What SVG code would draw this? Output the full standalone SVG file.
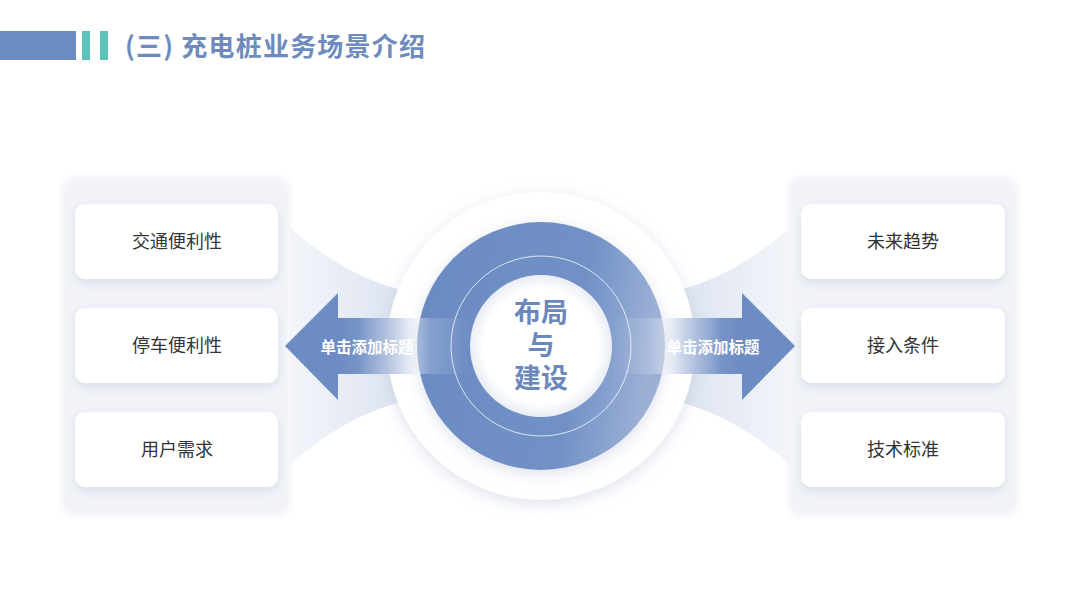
<svg xmlns="http://www.w3.org/2000/svg" width="1080" height="608" viewBox="0 0 1080 608">
<defs>
<style>
.card-t{font-family:"Noto Sans CJK SC","Noto Sans",sans-serif;font-size:18px;fill:#333;text-anchor:middle;dominant-baseline:central}
.lbl{font-family:"Noto Sans CJK SC","Noto Sans",sans-serif;font-size:15.5px;font-weight:bold;fill:#fff;text-anchor:middle;dominant-baseline:central}
.ctr{font-family:"Liberation Sans","Noto Sans CJK SC",sans-serif;font-size:27px;font-weight:bold;fill:#6b88bd;text-anchor:middle}
.panel{fill:#f1f3f8}
.card{fill:#fff;filter:url(#cardShadow)}
</style>
<filter id="cardShadow" x="-20%" y="-30%" width="140%" height="170%">
<feDropShadow dx="0" dy="4" stdDeviation="5" flood-color="#b9c4da" flood-opacity="0.45"/>
</filter>
<filter id="panelShadow" x="-10%" y="-10%" width="120%" height="120%">
<feGaussianBlur stdDeviation="3"/>
</filter>
<filter id="circShadow" x="-20%" y="-20%" width="140%" height="140%">
<feDropShadow dx="0" dy="4" stdDeviation="8" flood-color="#b5c0d6" flood-opacity="0.45"/>
</filter>
<linearGradient id="beamL" x1="290" y1="0" x2="420" y2="0" gradientUnits="userSpaceOnUse">
<stop offset="0" stop-color="#f3f5fa"/>
<stop offset="1" stop-color="#d8e0ee"/>
</linearGradient>
<linearGradient id="beamR" x1="790" y1="0" x2="660" y2="0" gradientUnits="userSpaceOnUse">
<stop offset="0" stop-color="#f3f5fa"/>
<stop offset="1" stop-color="#d8e0ee"/>
</linearGradient>
<linearGradient id="shaftL" x1="338" y1="0" x2="470" y2="0" gradientUnits="userSpaceOnUse">
<stop offset="0" stop-color="#6d8cc3"/>
<stop offset="0.15" stop-color="#7693c7"/>
<stop offset="0.45" stop-color="#c3cfe6" stop-opacity="0.9"/>
<stop offset="0.7" stop-color="#ffffff" stop-opacity="0.18"/>
<stop offset="1" stop-color="#ffffff" stop-opacity="0"/>
</linearGradient>
<linearGradient id="shaftR" x1="742" y1="0" x2="612" y2="0" gradientUnits="userSpaceOnUse">
<stop offset="0" stop-color="#6d8cc3"/>
<stop offset="0.15" stop-color="#7693c7"/>
<stop offset="0.45" stop-color="#c3cfe6" stop-opacity="0.9"/>
<stop offset="0.7" stop-color="#ffffff" stop-opacity="0.18"/>
<stop offset="1" stop-color="#ffffff" stop-opacity="0"/>
</linearGradient>
<linearGradient id="ring" x1="0" y1="0" x2="1" y2="0.15">
<stop offset="0" stop-color="#6a8ac2"/>
<stop offset="0.7" stop-color="#7191c6"/>
<stop offset="1" stop-color="#9cb0d6"/>
</linearGradient>
<radialGradient id="inner" cx="0.5" cy="0.5" r="0.5">
<stop offset="0.8" stop-color="#ffffff"/>
<stop offset="1" stop-color="#e9edf5"/>
</radialGradient>
</defs>
<rect width="1080" height="608" fill="#ffffff"/>

<g id="header">
<rect x="0" y="31" width="76" height="29" fill="#6c8cc4"/>
<rect x="82" y="31" width="8" height="29" fill="#5cc4b8"/>
<rect x="100" y="31" width="8" height="29" fill="#5cc4b8"/>
<text x="125" y="56" font-family="Noto Sans CJK SC, Noto Sans, sans-serif" font-size="26" font-weight="bold" letter-spacing="1.2" fill="#6e8bbd">(三) 充电桩业务场景介绍</text>
</g>

<g id="beams">
<path d="M290,228 Q350,280 410,292 L410,400 Q350,412 290,464 Z" fill="url(#beamL)"/>
<path d="M790,228 Q730,280 670,292 L670,400 Q730,412 790,464 Z" fill="url(#beamR)"/>
</g>

<g id="left-panel">
<rect x="62" y="177" width="228" height="339" rx="12" class="panel" filter="url(#panelShadow)"/>
</g>
<g id="right-panel">
<rect x="788" y="177" width="230" height="339" rx="12" class="panel" filter="url(#panelShadow)"/>
</g>

<g id="card-l1"><rect x="75" y="204" width="203" height="75" rx="10" class="card"/><text x="177" y="240" class="card-t">交通便利性</text></g>
<g id="card-l2"><rect x="75" y="308" width="203" height="75" rx="10" class="card"/><text x="177" y="344" class="card-t">停车便利性</text></g>
<g id="card-l3"><rect x="75" y="412" width="203" height="75" rx="10" class="card"/><text x="177" y="448" class="card-t">用户需求</text></g>
<g id="card-r1"><rect x="801" y="204" width="204" height="75" rx="10" class="card"/><text x="903" y="240" class="card-t">未来趋势</text></g>
<g id="card-r2"><rect x="801" y="308" width="204" height="75" rx="10" class="card"/><text x="903" y="344" class="card-t">接入条件</text></g>
<g id="card-r3"><rect x="801" y="412" width="204" height="75" rx="10" class="card"/><text x="903" y="448" class="card-t">技术标准</text></g>

<g id="center">
<circle cx="541" cy="346" r="154" fill="#ffffff" filter="url(#circShadow)"/>
<circle cx="541" cy="346" r="124" fill="url(#ring)" filter="url(#circShadow)"/>
<circle cx="541" cy="346" r="90" fill="none" stroke="#ffffff" stroke-opacity="0.75" stroke-width="1"/>
<circle cx="541" cy="346" r="71" fill="url(#inner)"/>
</g>

<g id="connectors">
<g id="arrow-left">
<rect x="337" y="318" width="135" height="56" fill="url(#shaftL)"/>
<polygon points="285,346 338,293 338,400" fill="#6d8cc3"/>
<text x="367" y="346" class="lbl">单击添加标题</text>
</g>
<g id="arrow-right">
<rect x="610" y="318" width="133" height="56" fill="url(#shaftR)"/>
<polygon points="795,346 742,293 742,400" fill="#6d8cc3"/>
<text x="713" y="346" class="lbl">单击添加标题</text>
</g>
</g>

<g id="center-text">
<text class="ctr"><tspan x="541" y="322">布局</tspan><tspan x="541" y="355">与</tspan><tspan x="541" y="388">建设</tspan></text>
</g>
</svg>
